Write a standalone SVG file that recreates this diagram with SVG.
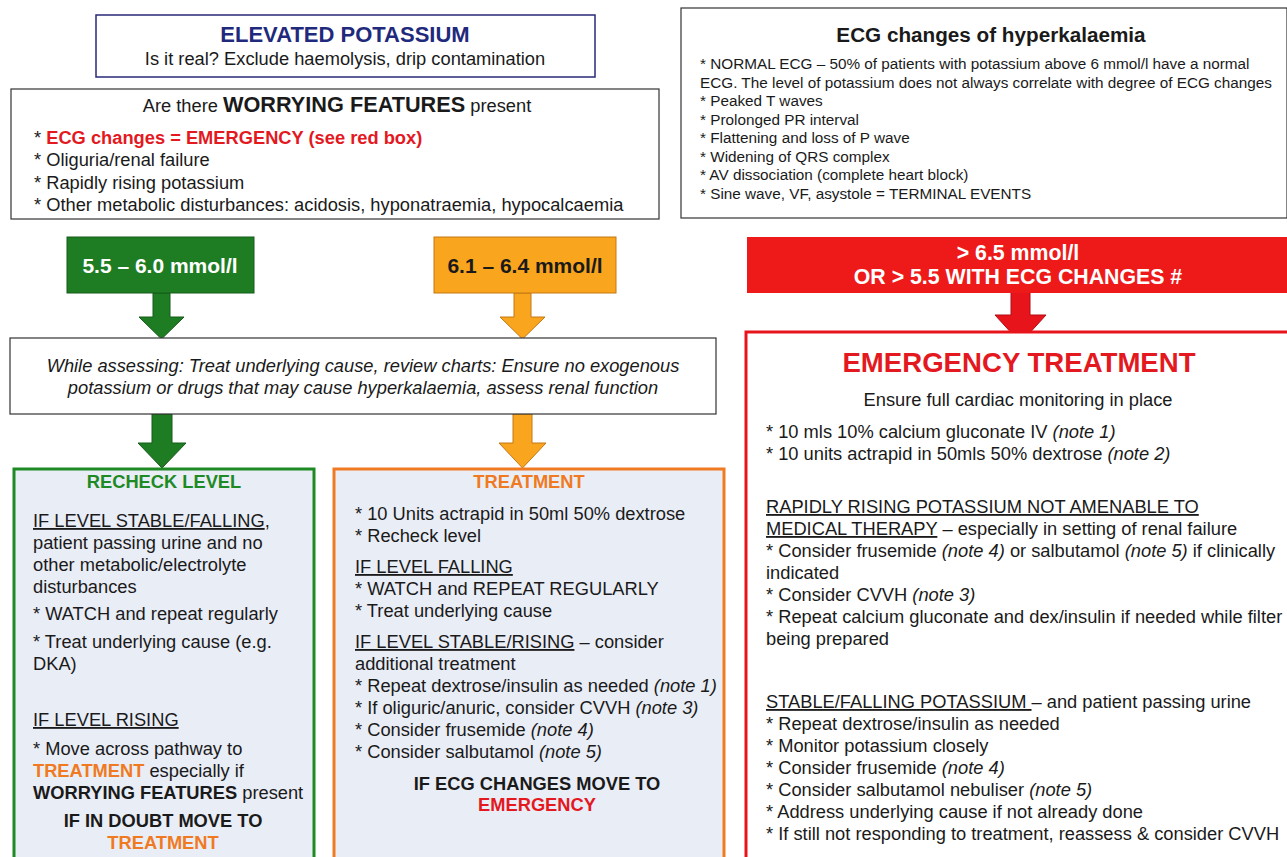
<svg xmlns="http://www.w3.org/2000/svg" width="1287" height="857" viewBox="0 0 1287 857">
<style>
text{font-family:"Liberation Sans",Arial,sans-serif;fill:#1a1a1a}
.b{font-weight:bold}
.i{font-style:italic}
.u{text-decoration:underline}
.c{text-anchor:middle}
.t16{font-size:18.3px}
.t13{font-size:15.3px}
.red{fill:#e3191f}
.org{fill:#f07a22}
.grn{fill:#1e8a24}
.box{fill:#ffffff;stroke:#333333;stroke-width:1.2}
.panel{fill:#e9edf6;stroke-width:3}
</style>
<rect width="1287" height="857" fill="#ffffff"/>

<g id="elevated">
<rect x="96" y="15" width="499" height="62" fill="#fff" stroke="#28287a" stroke-width="1.5"/>
<text x="345" y="42" class="b c" font-size="22px" style="fill:#1f2a7d">ELEVATED POTASSIUM</text>
<text x="345" y="65" class="c t16">Is it real? Exclude haemolysis, drip contamination</text>
</g>

<g id="worrying">
<rect x="11" y="89" width="648" height="130" class="box"/>
<text x="337" y="112" class="c t16">Are there <tspan class="b" font-size="21.7px">WORRYING FEATURES</tspan> present</text>
<text x="34" y="144" class="t16"><tspan>* </tspan><tspan class="b red">ECG changes = EMERGENCY (see red box)</tspan></text>
<text x="34" y="166" class="t16">* Oliguria/renal failure</text>
<text x="34" y="189" class="t16">* Rapidly rising potassium</text>
<text x="34" y="211" class="t16">* Other metabolic disturbances: acidosis, hyponatraemia, hypocalcaemia</text>
</g>

<g id="ecg">
<rect x="681" y="8" width="606" height="210" class="box"/>
<text x="991" y="42" class="b c" font-size="20.7px">ECG changes of hyperkalaemia</text>
<text x="700" y="69" class="t13">* NORMAL ECG – 50% of patients with potassium above 6 mmol/l have a normal</text>
<text x="700" y="88" class="t13">ECG. The level of potassium does not always correlate with degree of ECG changes</text>
<text x="700" y="106" class="t13">* Peaked T waves</text>
<text x="700" y="125" class="t13">* Prolonged PR interval</text>
<text x="700" y="143" class="t13">* Flattening and loss of P wave</text>
<text x="700" y="162" class="t13">* Widening of QRS complex</text>
<text x="700" y="180" class="t13">* AV dissociation (complete heart block)</text>
<text x="700" y="199" class="t13">* Sine wave, VF, asystole = TERMINAL EVENTS</text>
</g>

<g id="connectors">
<polygon points="153,293 170,293 170,317 184,317 161.5,339 139,317 153,317" fill="#1e7d22" stroke="#145a18" stroke-width="1"/>
<polygon points="514,293 531,293 531,317 545,317 522.5,339 500,317 514,317" fill="#f9a51e" stroke="#c47812" stroke-width="1"/>
<polygon points="1011,283 1030,283 1030,315 1046,315 1020.5,343 995,315 1011,315" fill="#e8141c" stroke="#b00d12" stroke-width="1"/>
<polygon points="152,414 172,414 172,443 186,443 162,468 138,443 152,443" fill="#1e7d22" stroke="#145a18" stroke-width="1"/>
<polygon points="513,414 532,414 532,443 546,443 522.5,468 499,443 513,443" fill="#f9a51e" stroke="#c47812" stroke-width="1"/>
</g>

<g id="range-green">
<rect x="67" y="237" width="187" height="56" fill="#1e7d22" stroke="#155c18" stroke-width="1"/>
<text x="160" y="273" class="b c" font-size="21px" style="fill:#fff">5.5 – 6.0 mmol/l</text>
</g>

<g id="range-orange">
<rect x="434" y="237" width="182" height="56" fill="#f9a51e" stroke="#c47812" stroke-width="1"/>
<text x="525" y="273" class="b c" font-size="21px">6.1 – 6.4 mmol/l</text>
</g>

<g id="range-red">
<rect x="747" y="237" width="545" height="56" fill="#ee1a1a"/>
<text x="1018" y="260" class="b c" font-size="21.3px" style="fill:#fff">&gt; 6.5 mmol/l</text>
<text x="1018" y="284" class="b c" font-size="21.3px" style="fill:#fff">OR &gt; 5.5 WITH ECG CHANGES #</text>
</g>

<g id="assessing">
<rect x="10" y="338" width="706" height="76" class="box"/>
<text x="363" y="372" class="c i t16">While assessing: Treat underlying cause, review charts: Ensure no exogenous</text>
<text x="363" y="394" class="c i t16">potassium or drugs that may cause hyperkalaemia, assess renal function</text>
</g>

<g id="recheck">
<rect x="14" y="469" width="300" height="395" class="panel" stroke="#1e8a24"/>
<text x="164" y="488" class="b c t16 grn">RECHECK LEVEL</text>
<text x="33" y="527" class="t16"><tspan class="u">IF LEVEL STABLE/FALLING</tspan>,</text>
<text x="33" y="549" class="t16">patient passing urine and no</text>
<text x="33" y="571" class="t16">other metabolic/electrolyte</text>
<text x="33" y="593" class="t16">disturbances</text>
<text x="33" y="620" class="t16">* WATCH and repeat regularly</text>
<text x="33" y="648" class="t16">* Treat underlying cause (e.g.</text>
<text x="33" y="670" class="t16">DKA)</text>
<text x="33" y="726" class="t16 u">IF LEVEL RISING</text>
<text x="33" y="755" class="t16">* Move across pathway to</text>
<text x="33" y="777" class="t16"><tspan class="b org">TREATMENT</tspan> especially if</text>
<text x="33" y="799" class="t16"><tspan class="b">WORRYING FEATURES</tspan> present</text>
<text x="163" y="827" class="b c t16">IF IN DOUBT MOVE TO</text>
<text x="163" y="849" class="b c t16 org">TREATMENT</text>
</g>

<g id="treatment">
<rect x="334" y="469" width="390" height="395" class="panel" stroke="#f07a22"/>
<text x="529" y="488" class="b c t16 org">TREATMENT</text>
<text x="355" y="520" class="t16">* 10 Units actrapid in 50ml 50% dextrose</text>
<text x="355" y="542" class="t16">* Recheck level</text>
<text x="355" y="573" class="t16 u">IF LEVEL FALLING</text>
<text x="355" y="595" class="t16">* WATCH and REPEAT REGULARLY</text>
<text x="355" y="617" class="t16">* Treat underlying cause</text>
<text x="355" y="648" class="t16"><tspan class="u">IF LEVEL STABLE/RISING</tspan> – consider</text>
<text x="355" y="670" class="t16">additional treatment</text>
<text x="355" y="692" class="t16">* Repeat dextrose/insulin as needed <tspan class="i">(note 1)</tspan></text>
<text x="355" y="714" class="t16">* If oliguric/anuric, consider CVVH <tspan class="i">(note 3)</tspan></text>
<text x="355" y="736" class="t16">* Consider frusemide <tspan class="i">(note 4)</tspan></text>
<text x="355" y="758" class="t16">* Consider salbutamol <tspan class="i">(note 5)</tspan></text>
<text x="537" y="790" class="b c t16">IF ECG CHANGES MOVE TO</text>
<text x="537" y="811" class="b c t16 red">EMERGENCY</text>
</g>

<g id="emergency">
<rect x="746" y="332" width="550" height="532" fill="#fff" stroke="#e8141c" stroke-width="3"/>
<text x="1019" y="372" class="b c red" font-size="27.6px">EMERGENCY TREATMENT</text>
<text x="1018" y="406" class="c t16">Ensure full cardiac monitoring in place</text>
<text x="766" y="438" class="t16">* 10 mls 10% calcium gluconate IV <tspan class="i">(note 1)</tspan></text>
<text x="766" y="460" class="t16">* 10 units actrapid in 50mls 50% dextrose <tspan class="i">(note 2)</tspan></text>
<text x="766" y="513" class="t16 u">RAPIDLY RISING POTASSIUM NOT AMENABLE TO</text>
<text x="766" y="535" class="t16"><tspan class="u">MEDICAL THERAPY</tspan> – especially in setting of renal failure</text>
<text x="766" y="557" class="t16">* Consider frusemide <tspan class="i">(note 4)</tspan> or salbutamol <tspan class="i">(note 5)</tspan> if clinically</text>
<text x="766" y="579" class="t16">indicated</text>
<text x="766" y="601" class="t16">* Consider CVVH <tspan class="i">(note 3)</tspan></text>
<text x="766" y="623" class="t16">* Repeat calcium gluconate and dex/insulin if needed while filter</text>
<text x="766" y="645" class="t16">being prepared</text>
<text x="766" y="708" class="t16"><tspan class="u">STABLE/FALLING POTASSIUM </tspan>– and patient passing urine</text>
<text x="766" y="730" class="t16">* Repeat dextrose/insulin as needed</text>
<text x="766" y="752" class="t16">* Monitor potassium closely</text>
<text x="766" y="774" class="t16">* Consider frusemide <tspan class="i">(note 4)</tspan></text>
<text x="766" y="796" class="t16">* Consider salbutamol nebuliser <tspan class="i">(note 5)</tspan></text>
<text x="766" y="818" class="t16">* Address underlying cause if not already done</text>
<text x="766" y="840" class="t16">* If still not responding to treatment, reassess &amp; consider CVVH</text>
</g>
</svg>
